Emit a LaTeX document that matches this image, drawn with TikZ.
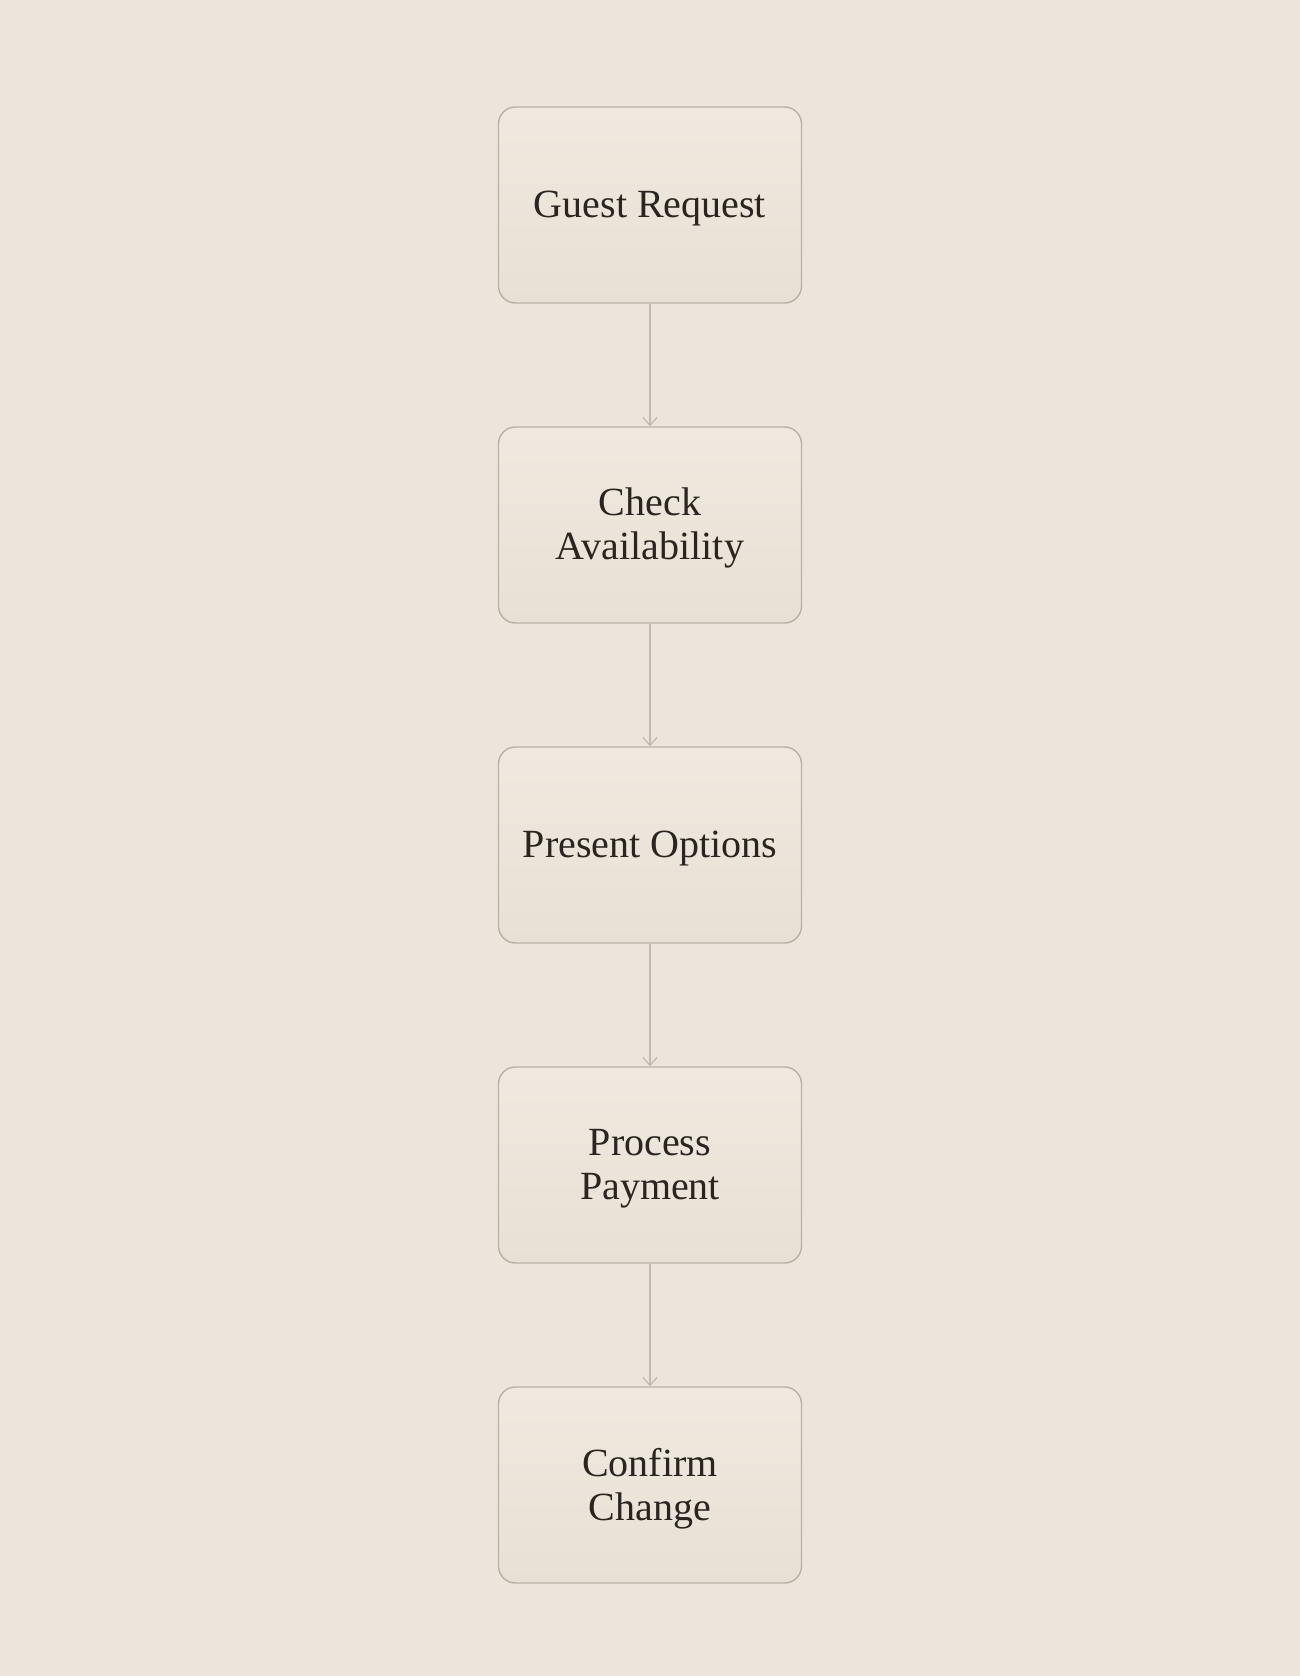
\documentclass[tikz,border=0pt]{standalone}
\usepackage{fontspec}
\setmainfont{Liberation Serif}
\usetikzlibrary{arrows.meta,backgrounds}
\definecolor{bgc}{HTML}{EDE5DC}
\definecolor{boxtop}{HTML}{F0E9DF}
\definecolor{boxbot}{HTML}{E8E0D5}
\definecolor{boxline}{HTML}{B9B1A7}
\definecolor{arrc}{HTML}{C2BAB0}
\definecolor{txt}{HTML}{2A2520}
\definecolor{shd}{HTML}{8A7A66}
\tikzset{
  stepbox/.style={rectangle, rounded corners=8.5pt, draw=boxline, line width=0.7pt,
    minimum width=151.5pt, minimum height=98pt, inner sep=0pt, text depth=1pt,
    top color=boxtop, bottom color=boxbot,
    align=center, text=txt, font=\fontsize{20}{22}\selectfont},
  flow/.style={draw=arrc, line width=0.6pt, -{Straight Barb[length=4pt,width=7pt,line width=0.6pt]}},
  softshadow/.style={fill=shd, fill opacity=0.03, draw=none}
}
\newcommand{\boxshadow}[1]{%
  \foreach \i in {1,...,10}{%
    \fill[softshadow, rounded corners={8.5pt+\i*0.9pt}]
      ([xshift={-\i*0.9pt+0pt},yshift={-5pt-\i*0.9pt}]#1.south west) rectangle
      ([xshift={\i*0.9pt},yshift={-3pt+\i*0.9pt}]#1.north east);
  }}
\begin{document}
\begin{tikzpicture}[x=0.5pt,y=-0.5pt]
\fill[bgc] (0,0) rectangle (1300,1676);
\useasboundingbox (0,0) rectangle (1300,1676);
\node[stepbox] (n1) at (650,205) {Guest Request};
\node[stepbox] (n2) at (650,525) {Check\\Availability};
\node[stepbox] (n3) at (650,845) {Present Options};
\node[stepbox] (n4) at (650,1165) {Process\\Payment};
\node[stepbox] (n5) at (650,1485) {Confirm\\Change};
\begin{scope}[on background layer]
\boxshadow{n1}\boxshadow{n2}\boxshadow{n3}\boxshadow{n4}\boxshadow{n5}
\end{scope}
\draw[flow] (n1) -- (n2);
\draw[flow] (n2) -- (n3);
\draw[flow] (n3) -- (n4);
\draw[flow] (n4) -- (n5);
\end{tikzpicture}
\end{document}
